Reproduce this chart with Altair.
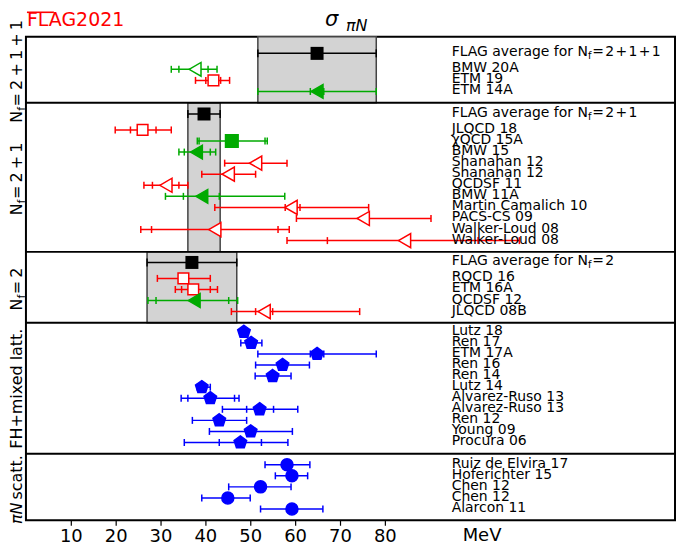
import altair as alt
import pandas as pd

# ---------------- data ----------------
avg_val = [64.9, 39.7, 37.0]
avg_lo = [51.7, 36.1, 27.0]
avg_hi = [78.1, 43.3, 47.0]
avg_nf = ["=\u200a2\u200a+\u200a1\u200a+\u200a1", "=\u200a2\u200a+\u200a1", "=\u200a2"]

names = [
    "BMW 20A", "ETM 19", "ETM 14A",
    "JLQCD 18", "\u03c7QCD 15A", "BMW 15", "Shanahan 12", "Shanahan 12", "QCDSF 11",
    "BMW 11A", "Martin Camalich 10", "PACS-CS 09", "Walker-Loud 08", "Walker-Loud 08",
    "RQCD 16", "ETM 16A", "QCDSF 12", "JLQCD 08B",
    "Lutz 18", "Ren 17", "ETM 17A", "Ren 16", "Ren 14", "Lutz 14", "Alvarez-Ruso 13",
    "Alvarez-Ruso 13", "Ren 12", "Young 09", "Procura 06",
    "Ruiz de Elvira 17", "Hoferichter 15", "Chen 12", "Chen 12", "Alarcon 11",
]
panel = [0] * 3 + [1] * 11 + [2] * 4 + [3] * 11 + [4] * 5
val = [37.7, 41.8, 64.9,
       26.0, 45.9, 38.0, 51.2, 45.1, 31.2, 39.2, 59.1, 75.2, 42.1, 84.4,
       35.1, 37.3, 37.5, 53.1,
       48.6, 50.2, 64.9, 57.2, 55.0, 39.2, 41.1, 52.1, 43.1, 50.1, 47.8,
       58.2, 59.3, 52.3, 45.0, 59.3]
lo = [32.4, 37.8, 51.7,
      19.9, 38.2, 34.1, 44.3, 39.2, 26.3, 31.1, 42.1, 60.3, 25.6, 58.2,
      29.3, 33.3, 27.2, 45.8,
      48.6, 47.9, 51.7, 51.2, 51.1, 38.2, 34.6, 43.8, 37.1, 40.9, 35.3,
      53.3, 55.6, 45.2, 39.2, 52.3]
hi = [42.6, 45.4, 78.1,
      32.4, 53.8, 42.3, 58.2, 51.2, 36.1, 57.7, 76.4, 90.3, 58.7, 110.0,
      41.1, 42.7, 47.2, 74.4,
      48.6, 52.6, 78.1, 63.2, 59.1, 41.1, 47.5, 60.6, 49.2, 59.4, 58.4,
      63.3, 62.8, 59.1, 50.0, 66.2]
nan = float("nan")
stat_lo = [34.1, 40.1, 63.4,
           23.3, 38.6, 35.3, nan, nan, 28.2, 35.1, 57.8, nan, 28.0, 67.2,
           nan, 34.7, 29.0, 51.2,
           nan, nan, 63.4, nan, nan, nan, 36.1, 49.2, nan, nan, 43.1,
           nan, nan, nan, nan, nan]
stat_hi = [40.6, 43.4, 66.4,
           29.0, 53.3, 41.1, nan, nan, 34.1, 43.1, 61.1, nan, 56.2, 100.8,
           nan, 41.1, 45.2, 55.0,
           nan, nan, 66.4, nan, nan, nan, 46.5, 55.2, nan, nan, 52.5,
           nan, nan, nan, nan, nan]
style = ["go", "rs", "gt",
         "rs", "gs", "gt", "rt", "rt", "rt", "gt", "rt", "rt", "rt", "rt",
         "rs", "rs", "gt", "rt",
         "bp", "bp", "bp", "bp", "bp", "bp", "bp", "bp", "bp", "bp", "bp",
         "bc", "bc", "bc", "bc", "bc"]

# ---------------- styles / layout ----------------
RED, GREEN, BLUE = "#ff0000", "#00aa00", "#0000ff"
PENT = "M0,-1L0.951,-0.309L0.588,0.809L-0.588,0.809L-0.951,-0.309Z"
STY = {
    "rs": ("square", RED, "white", 115),
    "gs": ("square", GREEN, GREEN, 160),
    "rt": ("triangle-left", RED, "white", 200),
    "gt": ("triangle-left", GREEN, GREEN, 190),
    "go": ("triangle-left", GREEN, "white", 190),
    "bp": (PENT, BLUE, BLUE, 175),
    "bc": ("circle", BLUE, BLUE, 145),
}

W, H = 651, 485
XMAX = 144.7
ROW = 11.1
AVG_GAP = 16.0
PAD_TOP = [16.7, 11.3, 10.6, 9.0, 11.0]
PAD_BOT = 11.3
has_avg = [True, True, True, False, False]

tops, bottoms, avg_y, row_y = [], [], [], []
yy = 0.0
for p in range(5):
    tops.append(yy)
    yy += PAD_TOP[p]
    if has_avg[p]:
        avg_y.append(yy)
        yy += AVG_GAP
    n = panel.count(p)
    for k in range(n):
        row_y.append(yy + k * ROW)
    yy += (n - 1) * ROW + PAD_BOT
    bottoms.append(yy)
YMAX = yy

df = pd.DataFrame({
    "name": names, "val": val, "lo": lo, "hi": hi, "slo": stat_lo, "shi": stat_hi,
    "y": row_y,
    "shape": [STY[s][0] for s in style],
    "col": [STY[s][1] for s in style],
    "fill": [STY[s][2] for s in style],
    "size": [STY[s][3] for s in style],
})
dfa = pd.DataFrame({
    "val": avg_val, "lo": avg_lo, "hi": avg_hi, "y": avg_y, "nf": avg_nf,
    "top": tops[:3], "bot": bottoms[:3],
})
dfs = pd.DataFrame({"y": tops[1:]})

xscale = alt.Scale(domain=[0, XMAX], nice=False, zero=False)
yscale = alt.Scale(domain=[0, YMAX], reverse=True, nice=False, zero=False)
xaxis = alt.Axis(values=[10, 20, 30, 40, 50, 60, 70, 80], title=None, grid=False,
                 domain=False, tickSize=5, tickWidth=1.2, tickColor="black",
                 labelFontSize=18, labelFont="DejaVu Sans", labelColor="black",
                 labelPadding=2, format="d")


def X(f):
    return alt.X(f, scale=xscale, axis=xaxis)


def Y(f):
    return alt.Y(f, scale=yscale, axis=None)


FONT = "DejaVu Sans"
ADV = {"N": 1532, "f": 721, "=": 1716, "+": 1716, "2": 1303, "1": 1303,
       "\u2009": 410, "\u200a": 205, " ": 651, "F": 1178, "L": 1141, "A": 1401,
       "G": 1589, "a": 1255, "v": 1212, "e": 1260, "r": 842, "g": 1300, "o": 1253,
       "\u03c0": 1233, "s": 1067, "c": 1126, "t": 803, ".": 651}


def tw(s, size):
    return sum(ADV.get(ch, 1200) for ch in s) / 2048 * size


one = pd.DataFrame({"a": [0]})


def note(text, x, y, **kw):
    return alt.Chart(one).mark_text(text=text, font=FONT, **kw).encode(
        x=alt.value(x), y=alt.value(y))


layers = []
# grey bands
layers.append(alt.Chart(dfa).mark_rect(fill="#d3d3d3", stroke="#444444", strokeWidth=1.5)
              .encode(x=X("lo:Q"), x2="hi:Q", y=Y("top:Q"), y2="bot:Q"))
# separators
layers.append(alt.Chart(dfs).mark_rule(color="black", strokeWidth=2)
              .encode(y=Y("y:Q"), x=alt.value(0), x2=alt.value(W)))
# averages
layers.append(alt.Chart(dfa).mark_rule(color="black", strokeWidth=1.5)
              .encode(x=X("lo:Q"), x2="hi:Q", y=Y("y:Q")))
layers.append(alt.Chart(dfa).transform_fold(["lo", "hi"], as_=["k", "xv"])
              .mark_tick(orient="vertical", size=8, thickness=1.5, color="black", opacity=1)
              .encode(x=X("xv:Q"), y=Y("y:Q")))
layers.append(alt.Chart(dfa).mark_point(shape="square", size=170, filled=True,
                                        color="black", opacity=1)
              .encode(x=X("val:Q"), y=Y("y:Q")))
# error bars
layers.append(alt.Chart(df).mark_rule(strokeWidth=1.5)
              .encode(x=X("lo:Q"), x2="hi:Q", y=Y("y:Q"),
                      color=alt.Color("col:N", scale=None)))
layers.append(alt.Chart(df).transform_fold(["lo", "hi"], as_=["k", "xv"])
              .mark_tick(orient="vertical", size=7, thickness=1.5, opacity=1)
              .encode(x=X("xv:Q"), y=Y("y:Q"), color=alt.Color("col:N", scale=None)))
layers.append(alt.Chart(df).transform_fold(["slo", "shi"], as_=["k", "xv"])
              .transform_filter("isValid(datum.xv) && isFinite(datum.xv)")
              .mark_tick(orient="vertical", size=7, thickness=1.5, opacity=1)
              .encode(x=X("xv:Q"), y=Y("y:Q"), color=alt.Color("col:N", scale=None)))
# markers
layers.append(alt.Chart(df).mark_point(opacity=1, fillOpacity=1, strokeWidth=1.5)
              .encode(x=X("val:Q"), y=Y("y:Q"),
                      shape=alt.Shape("shape:N", scale=None),
                      fill=alt.Fill("fill:N", scale=None),
                      stroke=alt.Stroke("col:N", scale=None),
                      size=alt.Size("size:Q", scale=None)))
# right labels
TX = 427
layers.append(alt.Chart(df).mark_text(font=FONT, fontSize=14, align="left",
                                      baseline="middle", dy=-1, color="black")
              .encode(x=alt.value(TX), y=Y("y:Q"), text="name:N"))
p1 = "FLAG average for N"
w1 = tw(p1, 14)
layers.append(alt.Chart(dfa).mark_text(font=FONT, fontSize=14, align="left",
                                       baseline="middle", dy=-1, color="black", text=p1)
              .encode(x=alt.value(TX), y=Y("y:Q")))
layers.append(alt.Chart(dfa).mark_text(font=FONT, fontSize=10, align="left",
                                       baseline="middle", dy=3, dx=w1, color="black", text="f")
              .encode(x=alt.value(TX), y=Y("y:Q")))
layers.append(alt.Chart(dfa).mark_text(font=FONT, fontSize=14, align="left",
                                       baseline="middle", dy=-1, dx=w1 + 4.2, color="black")
              .encode(x=alt.value(TX), y=Y("y:Q"), text="nf:N"))

# left rotated panel labels
LS, SS = 16, 11
left_pieces = [
    [("N", LS, 0, "normal", 0), ("f", SS, 5, "normal", 0.5),
     ("\u2009=\u20092\u2009+\u20091\u2009+\u20091", LS, 0, "normal", 0)],
    [("N", LS, 0, "normal", 0), ("f", SS, 5, "normal", 0.5),
     ("\u2009=\u20092\u2009+\u20091", LS, 0, "normal", 0)],
    [("N", LS, 0, "normal", 0), ("f", SS, 5, "normal", 0.5),
     ("\u2009=\u20092", LS, 0, "normal", 0)],
    [("FH+mixed latt.", LS, 0, "normal", 0)],
    [("\u03c0N", LS, 0, "italic", 3), (" scatt.", LS, 0, "normal", 0)],
]
for p, pieces in enumerate(left_pieces):
    cy = (tops[p] + bottoms[p]) / 2 * H / YMAX
    total = sum(tw(s, fs) + ex for s, fs, _, _, ex in pieces)
    off = -total / 2
    for s, fs, dyy, fst, ex in pieces:
        layers.append(note(s, -9, cy, fontSize=fs, fontStyle=fst, angle=270,
                           align="left", baseline="middle", dx=off, dy=dyy,
                           color="black"))
        off += tw(s, fs) + ex

# title and logo
layers.append(note("\u03c3", 300, -11, fontSize=21, fontStyle="italic",
                   align="left", baseline="alphabetic", color="black"))
layers.append(note("\u03c0N", 321, -6, fontSize=16, fontStyle="italic",
                   align="left", baseline="alphabetic", color="black"))
layers.append(note("FLAG2021", 1, -11, fontSize=19, align="left",
                   baseline="alphabetic", color=RED))
layers.append(alt.Chart(one).mark_rule(color=RED, strokeWidth=1.6)
              .encode(x=alt.value(1), x2=alt.value(28), y=alt.value(-24.5)))
layers.append(note("MeV", 438, 501, fontSize=18, align="left", baseline="middle",
                   color="black"))

chart = alt.layer(*layers).properties(
    width=W, height=H,
    autosize=alt.AutoSizeParams(type="none"),
    padding={"left": 18, "top": 28, "right": 2, "bottom": 26},
).configure_view(stroke="black", strokeWidth=2)

chart.save("out.html", embed_options={"renderer": "svg", "actions": False})
